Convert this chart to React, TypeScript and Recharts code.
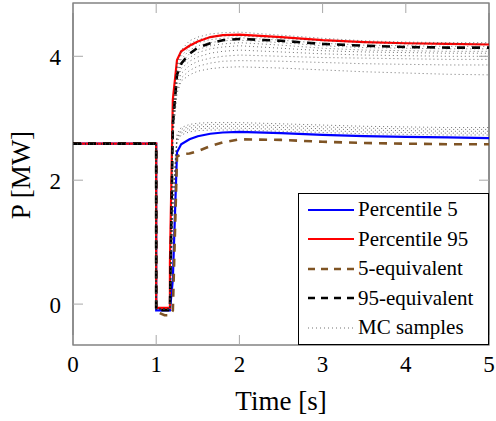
import React from 'react';
import { LineChart, Line, XAxis, YAxis, ReferenceArea, Legend } from 'recharts';

// time grid (s) shared by all curves; repeated values give the vertical steps
const T = [0, 1, 1, 1.1, 1.165, 1.165, 1.2, 1.25, 1.3, 1.4, 1.5, 1.65, 1.8, 2, 2.5, 3, 3.5, 4, 4.5, 5];

const perc5 = [2.59, 2.59, -0.1, -0.1, -0.1, -0.1, 0.4, 2.45, 2.58, 2.66, 2.71, 2.75, 2.77, 2.78, 2.76, 2.73, 2.71, 2.7, 2.69, 2.68];
const perc95 = [2.59, 2.59, -0.06, -0.06, -0.06, 0.66, 3.3, 3.94, 4.08, 4.17, 4.24, 4.31, 4.34, 4.35, 4.31, 4.26, 4.23, 4.21, 4.2, 4.19];
const equiv5 = [2.59, 2.59, -0.12, -0.18, -0.18, -0.18, -0.1, 2.38, 2.42, 2.43, 2.47, 2.55, 2.61, 2.66, 2.65, 2.62, 2.6, 2.59, 2.58, 2.58];
const equiv95 = [2.59, 2.59, -0.1, -0.1, -0.1, -0.1, 2.9, 3.7, 3.88, 4.04, 4.14, 4.21, 4.26, 4.28, 4.25, 4.2, 4.17, 4.15, 4.14, 4.14];

// Monte Carlo samples: common pre-fault part, then values from t = 1.2 on
const mcPre = [2.59, 2.59, -0.08, -0.08, -0.08, -0.08];
const mcTails = [
  [3.2, 3.9, 4.1, 4.25, 4.31, 4.36, 4.38, 4.39, 4.34, 4.29, 4.25, 4.23, 4.22, 4.22],
  [3.1, 3.85, 4.05, 4.2, 4.27, 4.31, 4.33, 4.33, 4.29, 4.25, 4.22, 4.2, 4.2, 4.2],
  [3.0, 3.8, 4.0, 4.15, 4.22, 4.27, 4.29, 4.3, 4.26, 4.21, 4.18, 4.17, 4.16, 4.16],
  [3.0, 3.75, 3.95, 4.1, 4.17, 4.22, 4.25, 4.26, 4.22, 4.17, 4.14, 4.13, 4.12, 4.12],
  [2.9, 3.7, 3.9, 4.04, 4.11, 4.17, 4.2, 4.22, 4.18, 4.13, 4.1, 4.09, 4.08, 4.08],
  [2.9, 3.65, 3.85, 3.98, 4.06, 4.12, 4.15, 4.17, 4.13, 4.09, 4.07, 4.06, 4.05, 4.05],
  [2.8, 3.6, 3.8, 3.92, 3.99, 4.05, 4.08, 4.1, 4.07, 4.04, 4.02, 4.01, 4.0, 4.0],
  [2.8, 3.55, 3.72, 3.85, 3.92, 3.97, 4.0, 4.02, 4.0, 3.98, 3.97, 3.96, 3.95, 3.95],
  [2.7, 3.45, 3.65, 3.77, 3.84, 3.89, 3.92, 3.93, 3.92, 3.9, 3.88, 3.87, 3.86, 3.86],
  [2.7, 3.4, 3.6, 3.7, 3.76, 3.8, 3.82, 3.83, 3.81, 3.78, 3.75, 3.73, 3.71, 3.7],
  [1.8, 2.75, 2.85, 2.9, 2.92, 2.93, 2.93, 2.93, 2.91, 2.89, 2.87, 2.86, 2.85, 2.85],
  [1.7, 2.7, 2.82, 2.87, 2.89, 2.9, 2.9, 2.9, 2.88, 2.86, 2.84, 2.83, 2.82, 2.82],
  [1.6, 2.68, 2.79, 2.84, 2.86, 2.87, 2.87, 2.87, 2.85, 2.83, 2.81, 2.8, 2.79, 2.79],
  [1.5, 2.65, 2.76, 2.81, 2.83, 2.84, 2.84, 2.84, 2.82, 2.8, 2.78, 2.77, 2.76, 2.76],
  [1.4, 2.62, 2.73, 2.78, 2.8, 2.81, 2.81, 2.81, 2.79, 2.77, 2.75, 2.74, 2.73, 2.73],
];

const xTicks = [0, 1, 2, 3, 4, 5];
const yTicks = [0, 2, 4];
const xDomain = [0, 5];
const yDomain = [-0.66, 4.86];

const toPoints = (vals: number[]) => T.map((t, i) => ({ t, p: vals[i] }));

const W = 496;
const H = 421;
const LEFT = 73;
const RIGHT = 489;
const TOP = 3;
const BOTTOM = 345;
const FONT = "'Liberation Serif', serif";
const TICK_COLOR = '#a8a8a8';

const XTick = (props: any) => {
  const { x, payload } = props;
  return (
    <g>
      <line x1={x} x2={x} y1={BOTTOM} y2={BOTTOM - 10} stroke={TICK_COLOR} />
      <line x1={x} x2={x} y1={TOP} y2={TOP + 10} stroke={TICK_COLOR} />
      <text x={x} y={364} textAnchor="middle" dominantBaseline="central" fontSize={23} fill="#000" style={{ fontFamily: FONT }}>
        {payload.value}
      </text>
    </g>
  );
};

const YTick = (props: any) => {
  const { y, payload } = props;
  return (
    <g>
      <line x1={LEFT} x2={LEFT + 10} y1={y} y2={y} stroke={TICK_COLOR} />
      <line x1={RIGHT} x2={RIGHT - 10} y1={y} y2={y} stroke={TICK_COLOR} />
      <text x={61} y={y + 1} textAnchor="end" dominantBaseline="central" fontSize={23} fill="#000" style={{ fontFamily: FONT }}>
        {payload.value}
      </text>
    </g>
  );
};

const legendItems = [
  { label: 'Percentile 5', color: '#0000ff', dash: undefined, width: 2.2 },
  { label: 'Percentile 95', color: '#ff0000', dash: undefined, width: 2.2 },
  { label: '5-equivalent', color: '#7f5424', dash: '7 6', width: 2.6 },
  { label: '95-equivalent', color: '#000000', dash: '7 6', width: 2.6 },
  { label: 'MC samples', color: '#333333', dash: '1 3', width: 0.7 },
];

const LegendBox = () => (
  <div
    style={{
      border: '1.2px solid #000',
      background: '#fff',
      width: 191,
      height: 152,
      boxSizing: 'border-box',
      paddingTop: 1,
      fontFamily: FONT,
      fontSize: 21,
      color: '#000',
    }}
  >
    {legendItems.map((it) => (
      <div key={it.label} style={{ display: 'flex', alignItems: 'center', height: 29.5 }}>
        <svg width={57} height={12} style={{ flex: 'none' }}>
          <line x1={9} x2={55} y1={6} y2={6} stroke={it.color} strokeWidth={it.width} strokeDasharray={it.dash} />
        </svg>
        <span style={{ marginLeft: 2, whiteSpace: 'nowrap', fontFamily: FONT }}>{it.label}</span>
      </div>
    ))}
  </div>
);

export default function App() {
  return (
    <div style={{ position: 'absolute', left: 0, top: 0, width: W, height: H, background: '#fff', fontFamily: FONT }}>
      <LineChart width={W} height={H} margin={{ top: TOP, right: W - RIGHT, left: 0, bottom: 0 }} style={{ fontFamily: FONT }}>
        <XAxis
          dataKey="t"
          type="number"
          domain={xDomain}
          ticks={xTicks}
          allowDataOverflow
          height={H - BOTTOM}
          axisLine={false}
          tickLine={false}
          tick={XTick}
          label={{
            content: () => (
              <text x={281} y={401} textAnchor="middle" dominantBaseline="central" fontSize={27} fill="#000" style={{ fontFamily: FONT }}>
                Time [s]
              </text>
            ),
          }}
        />
        <YAxis
          type="number"
          domain={yDomain}
          ticks={yTicks}
          allowDataOverflow
          width={LEFT}
          axisLine={false}
          tickLine={false}
          tick={YTick}
          label={{
            content: () => (
              <text x={21} y={175} transform="rotate(-90 21 175)" textAnchor="middle" dominantBaseline="central" fontSize={27} fill="#000" style={{ fontFamily: FONT }}>
                P [MW]
              </text>
            ),
          }}
        />
        <Line data={toPoints(perc5)} dataKey="p" type="linear" stroke="#0000ff" strokeWidth={2.2} dot={false} activeDot={false} isAnimationActive={false} />
        <Line data={toPoints(perc95)} dataKey="p" type="linear" stroke="#ff0000" strokeWidth={2.2} dot={false} activeDot={false} isAnimationActive={false} />
        <Line data={toPoints(equiv5)} dataKey="p" type="linear" stroke="#7f5424" strokeWidth={2.6} strokeDasharray="8 7" dot={false} activeDot={false} isAnimationActive={false} />
        <Line data={toPoints(equiv95)} dataKey="p" type="linear" stroke="#000000" strokeWidth={2.6} strokeDasharray="8 7" dot={false} activeDot={false} isAnimationActive={false} />
        {mcTails.map((tail, i) => (
          <Line
            key={i}
            data={toPoints([...mcPre, ...tail])}
            dataKey="p"
            type="linear"
            stroke="#333333"
            strokeWidth={0.7}
            strokeDasharray="1 3"
            dot={false}
            activeDot={false}
            isAnimationActive={false}
          />
        ))}
        <ReferenceArea x1={xDomain[0]} x2={xDomain[1]} y1={yDomain[0]} y2={yDomain[1]} fill="none" stroke="#444" strokeWidth={1.2} ifOverflow="visible" />
        <Legend
          layout="vertical"
          align="center"
          verticalAlign="middle"
          content={LegendBox}
          wrapperStyle={{ position: 'absolute', left: 298, top: 193, width: 191, height: 152 }}
        />
      </LineChart>
    </div>
  );
}
